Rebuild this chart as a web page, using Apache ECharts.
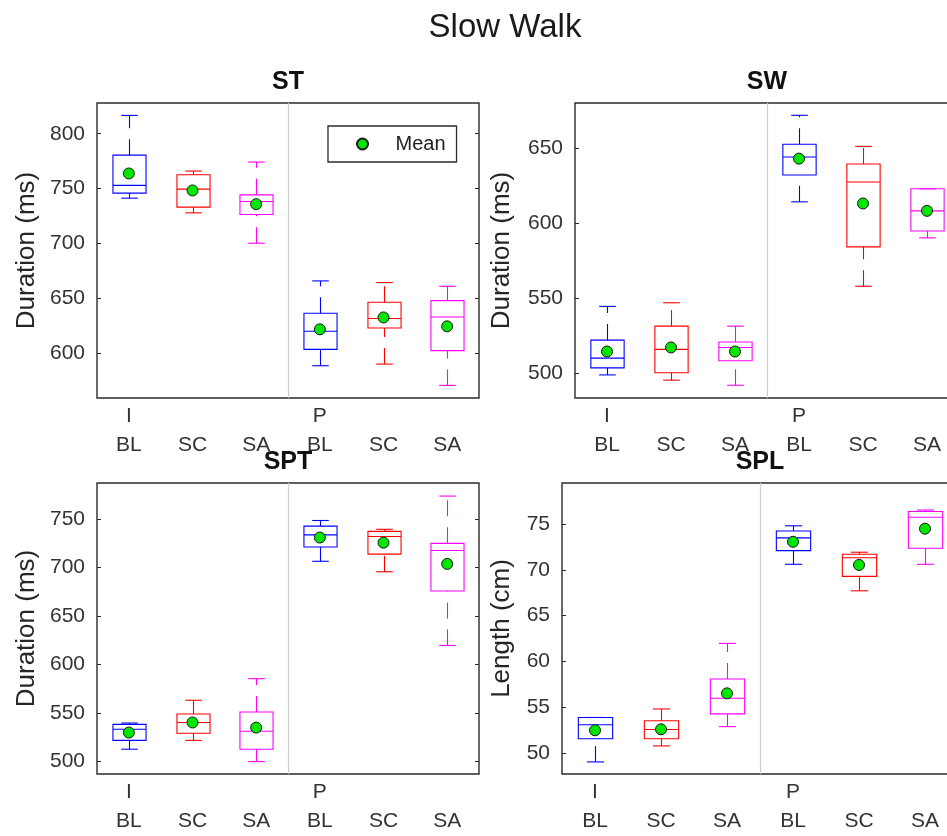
<!DOCTYPE html>
<html>
<head>
<meta charset="utf-8">
<title>Slow Walk</title>
<script src="https://cdn.jsdelivr.net/npm/echarts@6/dist/echarts.min.js"></script>
<style>
  html, body { margin: 0; padding: 0; background: #fff; overflow: hidden; }
  #chart { width: 972px; height: 836px; }
</style>
</head>
<body>
<div id="chart"></div>
<script>
// Phases and conditions along each x axis
const PHASES = ['I', 'P'];
const CONDITIONS = ['BL', 'SC', 'SA'];
const CATEGORY_KEYS = ['I-BL', 'I-SC', 'I-SA', 'P-BL', 'P-SC', 'P-SA'];

// Box statistics per category: [lower whisker, Q1, median, Q3, upper whisker]
const ST_BOXES = [
  [741.3, 745.9, 752.9, 780.5, 816.7],
  [727.9, 733.1, 749.5, 762.6, 766.0],
  [700.2, 726.4, 738.2, 744.3, 774.2],
  [588.6, 603.5, 620.0, 636.4, 665.9],
  [590.1, 623.0, 631.6, 646.5, 664.4],
  [570.7, 602.4, 633.0, 647.9, 661.0]
];
const ST_MEANS = [763.8, 748.3, 735.8, 621.8, 632.6, 624.5];
const ST_TICKS = [600, 650, 700, 750, 800];

const SW_BOXES = [
  [498.7, 503.4, 509.9, 521.9, 544.4],
  [495.2, 500.1, 515.7, 531.2, 546.8],
  [491.8, 508.1, 517.0, 520.6, 531.2],
  [614.1, 632.0, 644.0, 652.5, 671.8],
  [557.8, 584.1, 627.3, 639.3, 651.1],
  [590.1, 594.7, 608.1, 622.8, 622.8]
];
const SW_MEANS = [514.3, 517.0, 514.3, 642.9, 613.0, 608.1];
const SW_TICKS = [500, 550, 600, 650];

const SPT_BOXES = [
  [512.6, 521.7, 533.2, 538.2, 539.6],
  [521.7, 529.1, 540.2, 549.0, 563.1],
  [499.8, 512.6, 531.1, 551.0, 585.4],
  [706.6, 721.4, 733.8, 742.9, 748.7],
  [695.8, 714.0, 732.2, 737.5, 739.6],
  [619.7, 675.9, 717.7, 725.1, 773.9]
];
const SPT_MEANS = [529.8, 540.2, 534.9, 731.1, 725.8, 703.9];
const SPT_TICKS = [500, 550, 600, 650, 700, 750];

const SPL_BOXES = [
  [49.0, 51.54, 53.07, 53.86, 53.86],
  [50.75, 51.54, 52.54, 53.5, 54.79],
  [52.86, 54.25, 55.96, 58.07, 61.96],
  [70.61, 72.11, 73.5, 74.25, 74.82],
  [67.71, 69.29, 71.32, 71.71, 71.93],
  [70.61, 72.36, 75.75, 76.39, 76.54]
];
const SPL_MEANS = [52.46, 52.57, 56.5, 73.07, 70.54, 74.5];
const SPL_TICKS = [50, 55, 60, 65, 70, 75];

// Styling
const FONT = '"Liberation Sans", Arial, Helvetica, sans-serif';
const COND_COLORS = ['#0000ff', '#ff0000', '#ff00ff'];
const AXIS_COLOR = '#2b2b2b';
const LABEL_COLOR = '#333333';
const DIVIDER_COLOR = '#cfcfcf';

const PANELS = [
  { title: 'ST',  yName: 'Duration (ms)', boxes: ST_BOXES,  means: ST_MEANS,  ticks: ST_TICKS,
    min: 559.2, max: 828, grid: { left: 97, top: 103, width: 382, height: 295 }, nameGap: 57 },
  { title: 'SW',  yName: 'Duration (ms)', boxes: SW_BOXES,  means: SW_MEANS,  ticks: SW_TICKS,
    min: 483.3, max: 680, grid: { left: 575, top: 103, width: 384, height: 295 }, nameGap: 60 },
  { title: 'SPT', yName: 'Duration (ms)', boxes: SPT_BOXES, means: SPT_MEANS, ticks: SPT_TICKS,
    min: 487, max: 787.4, grid: { left: 97, top: 483, width: 382, height: 297 }, nameGap: 57 },
  { title: 'SPL', yName: 'Length (cm)',   boxes: SPL_BOXES, means: SPL_MEANS, ticks: SPL_TICKS,
    min: 47.68, max: 79.5, grid: { left: 562, top: 483, width: 396, height: 297 }, nameGap: 47 }
];

// Box with dashed whiskers, end caps and a median line; the first "P" category
// also draws the light divider separating the I and P groups.
function renderBox(params, api) {
  const idx = api.value(0);
  const lo = api.value(1), q1 = api.value(2), med = api.value(3), q3 = api.value(4), hi = api.value(5);
  const band = api.size([1, 0])[0];
  const x = Math.round(api.coord([idx, med])[0]) + 0.5;
  const y = v => api.coord([idx, v])[1];
  const half = band * 0.26;
  const cap = band * 0.13;
  const color = COND_COLORS[idx % 3];
  const solid = { stroke: color, lineWidth: 1.1, fill: null };
  const dashed = Object.assign({}, solid, { lineDash: [16, 11] });
  const children = [];
  if (idx % 3 === 0 && idx > 0) {
    const cs = params.coordSys;
    const dx = Math.round(api.coord([idx, med])[0] - band / 2) + 0.5;
    children.push({ type: 'line', shape: { x1: dx, y1: cs.y, x2: dx, y2: cs.y + cs.height },
      style: { stroke: DIVIDER_COLOR, lineWidth: 1.2 } });
  }
  children.push(
    { type: 'line', shape: { x1: x, y1: y(lo), x2: x, y2: y(q1) }, style: dashed },
    { type: 'line', shape: { x1: x, y1: y(q3), x2: x, y2: y(hi) }, style: dashed },
    { type: 'line', shape: { x1: x - cap, y1: y(lo), x2: x + cap, y2: y(lo) }, style: solid },
    { type: 'line', shape: { x1: x - cap, y1: y(hi), x2: x + cap, y2: y(hi) }, style: solid },
    { type: 'rect', shape: { x: x - half, y: y(q3), width: 2 * half, height: y(q1) - y(q3) },
      style: { stroke: color, lineWidth: 1.1, fill: 'none' } },
    { type: 'line', shape: { x1: x - half, y1: y(med), x2: x + half, y2: y(med) }, style: solid }
  );
  return { type: 'group', children };
}

const option = {
  animation: false,
  backgroundColor: '#ffffff',
  textStyle: { fontFamily: FONT },
  title: [
    { text: 'Slow Walk', left: 505, top: 28, textAlign: 'center', textVerticalAlign: 'middle', padding: 0,
      textStyle: { fontSize: 33, fontWeight: 'normal', color: '#1a1a1a', fontFamily: FONT } }
  ].concat(PANELS.map(p => ({
    text: p.title,
    left: p.grid.left + p.grid.width / 2,
    top: p.grid.top - 21,
    textAlign: 'center',
    textVerticalAlign: 'middle',
    padding: 0,
    textStyle: { fontSize: 25, fontWeight: 'bold', color: '#111', fontFamily: FONT }
  }))),
  legend: {
    data: ['Mean'],
    left: 328,
    top: 126,
    padding: [8, 11, 8, 28],
    borderColor: AXIS_COLOR,
    borderWidth: 1.3,
    itemWidth: 56,
    itemHeight: 11,
    selectedMode: false,
    textStyle: { fontSize: 20, color: '#222', fontFamily: FONT }
  },
  grid: PANELS.map(p => Object.assign({
    show: true, borderColor: AXIS_COLOR, borderWidth: 1.4, backgroundColor: 'transparent'
  }, p.grid)),
  xAxis: PANELS.map((p, i) => ({
    type: 'category',
    gridIndex: i,
    data: CATEGORY_KEYS,
    boundaryGap: true,
    axisLine: { show: false },
    axisTick: { show: false },
    splitLine: { show: false },
    axisLabel: {
      interval: 0,
      margin: 4,
      fontSize: 21,
      lineHeight: 29,
      color: LABEL_COLOR,
      formatter: (value, index) => (index % 3 === 0 ? PHASES[index / 3] : ' ') + '\n' + CONDITIONS[index % 3]
    }
  })),
  yAxis: PANELS.flatMap((p, i) => [
    {
      type: 'value',
      gridIndex: i,
      min: p.min,
      max: p.max,
      name: p.yName,
      nameLocation: 'middle',
      nameGap: p.nameGap,
      nameTextStyle: { fontSize: 26, color: '#262626', fontFamily: FONT },
      axisLine: { show: false },
      axisTick: { show: true, inside: true, length: 4, customValues: p.ticks, lineStyle: { color: AXIS_COLOR } },
      axisLabel: { customValues: p.ticks, fontSize: 21, color: LABEL_COLOR, margin: 12 },
      splitLine: { show: false }
    },
    {
      type: 'value',
      gridIndex: i,
      position: 'right',
      min: p.min,
      max: p.max,
      axisLine: { show: false },
      axisTick: { show: true, inside: true, length: 4, customValues: p.ticks, lineStyle: { color: AXIS_COLOR } },
      axisLabel: { show: false },
      splitLine: { show: false }
    }
  ]),
  series: PANELS.flatMap((p, i) => [
    {
      type: 'custom',
      name: p.title,
      xAxisIndex: i,
      yAxisIndex: 2 * i,
      renderItem: renderBox,
      encode: { x: 0, y: [1, 2, 3, 4, 5] },
      data: p.boxes.map((b, k) => [k].concat(b)),
      z: 2
    },
    {
      type: 'scatter',
      name: 'Mean',
      xAxisIndex: i,
      yAxisIndex: 2 * i,
      symbol: 'circle',
      symbolSize: 11,
      itemStyle: { color: '#00e600', borderColor: '#1a1a1a', borderWidth: 1, opacity: 1 },
      data: p.means.map((m, k) => [k, m]),
      z: 5
    }
  ])
};

const chart = echarts.init(document.getElementById('chart'), null, { renderer: 'canvas' });
chart.setOption(option);
</script>
</body>
</html>
